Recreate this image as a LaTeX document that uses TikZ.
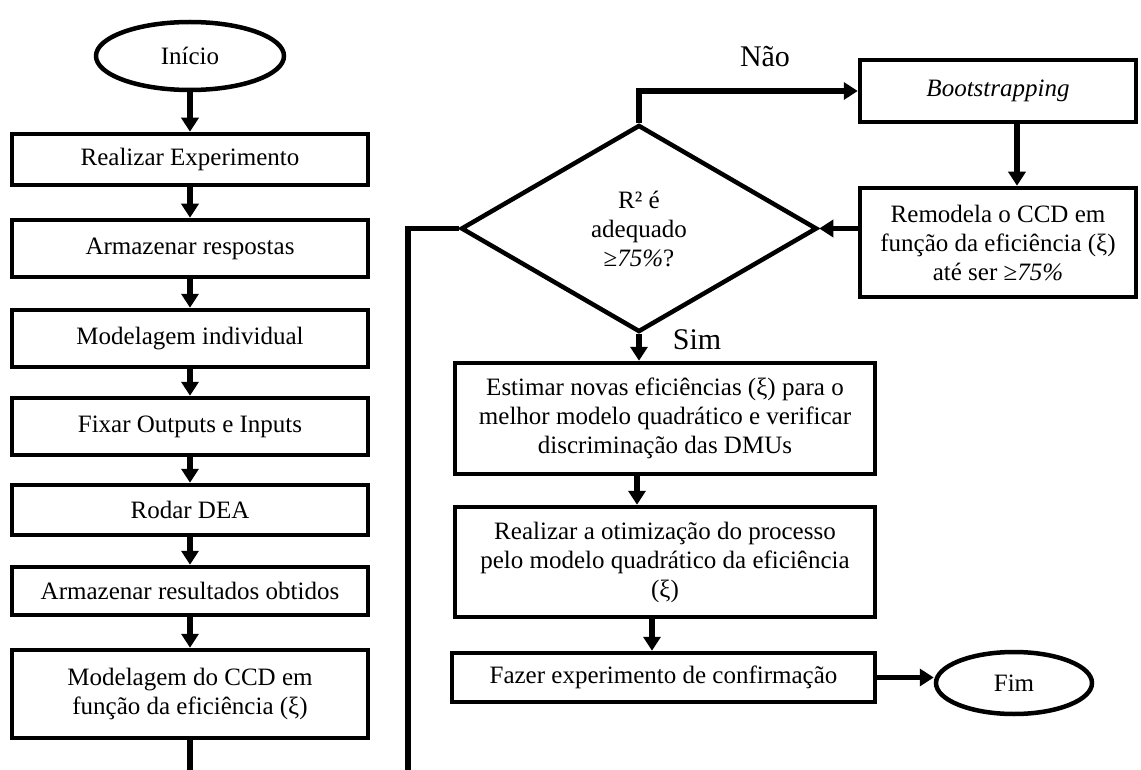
\documentclass[tikz,border=0pt]{standalone}
\usepackage{fontspec}
\setmainfont{Liberation Serif}
\usetikzlibrary{shapes.geometric,arrows.meta}
\begin{document}
\begin{tikzpicture}[x=1pt,y=-1pt,
  txt/.style={font=\fontsize{25}{29}\selectfont},
  box/.style={draw, rectangle, line width=4.5pt, align=center, inner sep=0pt, txt},
  term/.style={draw, ellipse, line width=4.5pt, inner sep=0pt, txt},
  dec/.style={draw, diamond, line width=4.5pt, inner sep=0pt, align=center, txt},
  conn/.style={line width=5.5pt},
  arr/.style={conn, -{Triangle[length=14pt,width=17pt]}},
  lbl/.style={font=\fontsize{30}{34}\selectfont}
]
\useasboundingbox (0,0) rectangle (1141,770);

% left column
\node[term, minimum width=188pt, minimum height=68pt] (ini) at (190,56) {Início};
\node[box, minimum width=356pt, minimum height=51pt] (exp) at (190,159.5) {Realizar Experimento};
\node[box, minimum width=356pt, minimum height=57pt] (arm) at (190,248.5) {Armazenar respostas};
\node[box, minimum width=356pt, minimum height=57pt] (mod) at (190,338.5) {Modelagem individual};
\node[box, minimum width=356pt, minimum height=57pt] (fix) at (190,426.5) {Fixar Outputs e Inputs};
\node[box, minimum width=356pt, minimum height=50pt] (dea) at (190,510) {Rodar DEA};
\node[box, minimum width=356pt, minimum height=48pt] (res) at (190,591) {Armazenar resultados obtidos};
\node[box, minimum width=356pt, minimum height=88pt] (ccd) at (190,694) {Modelagem do CCD em\\função da eficiência (ξ)};

% decision
\node[dec, minimum width=356pt, minimum height=207pt] (dia) at (639,228.5) {R² é\\adequado\\≥\textit{75\%}?};

% right column
\node[box, minimum width=276pt, minimum height=62pt] (boot) at (998,91) {\textit{Bootstrapping}};
\node[box, minimum width=276pt, minimum height=109pt] (rem) at (998,242.5) {Remodela o CCD em\\função da eficiência (ξ)\\até ser ≥\textit{75\%}};

% middle column
\node[box, minimum width=420pt, minimum height=111pt] (est) at (665,418.5) {Estimar novas eficiências (ξ) para o\\melhor modelo quadrático e verificar\\discriminação das DMUs};
\node[box, minimum width=420pt, minimum height=110pt] (otm) at (665,562) {Realizar a otimização do processo\\pelo modelo quadrático da eficiência\\(ξ)};
\node[box, minimum width=423pt, minimum height=49pt] (faz) at (663.5,677.5) {Fazer experimento de confirmação};
\node[term, minimum width=156pt, minimum height=62pt] (fim) at (1014,683) {Fim};

% labels
\node[lbl] (nao) at (765,57) {Não};
\node[lbl] (sim) at (697,340) {Sim};

% helper coordinates
\coordinate (ccdend) at (190,780);
\coordinate (loopend) at (408,780);
\coordinate (bx) at (1017,0);
\coordinate (ex) at (637,0);
\coordinate (ox) at (652,0);

% connectors
\draw[arr] (ini) -- (exp);
\draw[arr] (exp) -- (arm);
\draw[arr] (arm) -- (mod);
\draw[arr] (mod) -- (fix);
\draw[arr] (fix) -- (dea);
\draw[arr] (dea) -- (res);
\draw[arr] (res) -- (ccd);
\draw[conn] (ccd.south) -- (ccdend);
\draw[conn] (dia.west) -| (loopend);
\draw[arr] (dia.north) |- (boot.west);
\draw[arr] (boot.south -| bx) -- (rem.north -| bx);
\draw[arr] (rem.west |- dia.east) -- (dia.east);
\draw[arr] (dia.south) -- (dia.south |- est.north);
\draw[arr] (est.south -| ex) -- (otm.north -| ex);
\draw[arr] (otm.south -| ox) -- (faz.north -| ox);
\draw[arr] (faz.east) -- (fim.west |- faz.east);
\end{tikzpicture}
\end{document}
